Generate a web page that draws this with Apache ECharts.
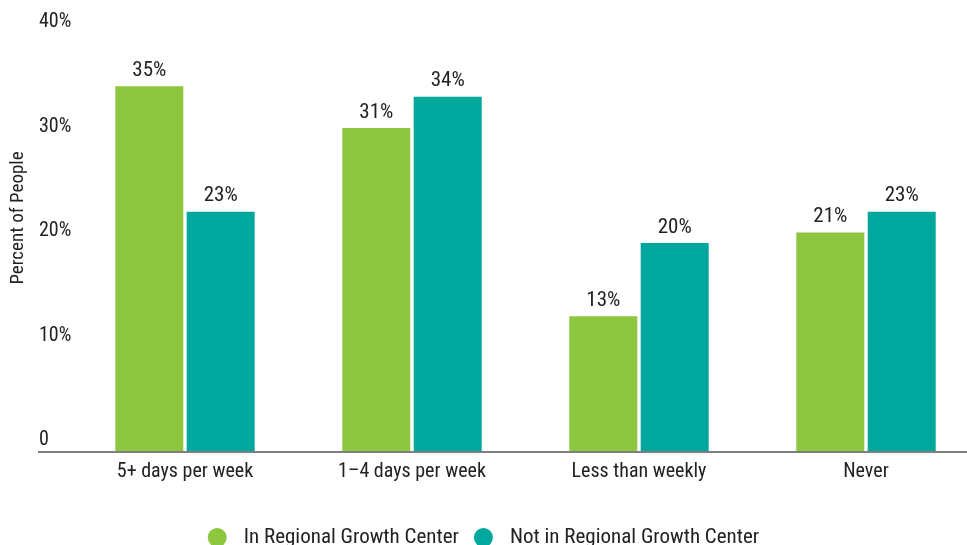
<!DOCTYPE html>
<html>
<head>
<meta charset="utf-8">
<script src="https://cdn.jsdelivr.net/npm/echarts@6/dist/echarts.min.js"></script>
<style>
  html, body { margin: 0; padding: 0; background: #fff; }
  #chart { width: 967px; height: 545px; }
</style>
</head>
<body>
<div id="chart"></div>
<script>
// Commute frequency by location
const categories = ['5+ days per week', '1\u20134 days per week', 'Less than weekly', 'Never'];
const inCenter = [35, 31, 13, 21];
const notInCenter = [23, 34, 20, 23];
const seriesNames = ['In Regional Growth Center', 'Not in Regional Growth Center'];
const yTicks = { min: 0, max: 40, interval: 10 };
const yTitle = 'Percent of People';

const FONT = '"Roboto Condensed", "Liberation Sans Narrow", Roboto, sans-serif';
const GREEN = '#8dc63f';
const TEAL = '#00a79d';

const chart = echarts.init(document.getElementById('chart'));

const gridLeft = 71.5, gridRight = -12.5, gridTop = 34, gridBottom = 93;

function barSeries(name, data, color) {
  return {
    name: name,
    type: 'bar',
    data: data,
    barWidth: 68,
    barGap: '5%',
    itemStyle: { color: color },
    label: {
      show: true,
      position: 'top',
      distance: 5,
      formatter: '{c}%',
      color: '#222',
      fontFamily: FONT,
      fontSize: 21
    }
  };
}

chart.setOption({
  animation: false,
  textStyle: { fontFamily: FONT },
  grid: {
    left: gridLeft, right: gridRight, top: gridTop, bottom: gridBottom,
    containLabel: false,
    outerBoundsMode: 'none'
  },
  legend: {
    top: 522,
    left: 'center',
    icon: 'circle',
    itemWidth: 19,
    itemHeight: 19,
    itemGap: 15,
    textStyle: { color: '#222', fontSize: 21, fontFamily: FONT, padding: [0, 0, 0, 12] },
    data: seriesNames
  },
  xAxis: {
    type: 'category',
    data: categories,
    axisLine: { show: false },
    axisTick: { show: false },
    axisLabel: { color: '#222', fontSize: 20, fontFamily: FONT, margin: 10 }
  },
  yAxis: {
    type: 'value',
    min: yTicks.min,
    max: yTicks.max,
    interval: yTicks.interval,
    axisLine: { show: false },
    axisTick: { show: false },
    splitLine: { show: false },
    axisLabel: {
      color: '#222',
      fontSize: 20,
      fontFamily: FONT,
      align: 'left',
      verticalAlign: 'bottom',
      margin: 32.5,
      padding: [0, 0, 2, 0],
      formatter: v => v === 0 ? '0' : v + '%'
    }
  },
  series: [
    barSeries(seriesNames[0], inCenter, GREEN),
    barSeries(seriesNames[1], notInCenter, TEAL)
  ]
});

// Baseline rule spanning the full plot width, extending under the tick labels,
// plus the rotated y-axis title
const base = chart.convertToPixel({ yAxisIndex: 0 }, 0);
chart.setOption({
  graphic: [
    {
      type: 'line',
      shape: { x1: 38, y1: base, x2: 967, y2: base },
      style: { stroke: '#7f7f7f', lineWidth: 2 },
      z: 10
    },
    {
      type: 'text',
      x: 18,
      y: 218,
      rotation: Math.PI / 2,
      style: {
        text: yTitle,
        fill: '#222',
        font: '19px ' + FONT,
        textAlign: 'center',
        textVerticalAlign: 'middle'
      }
    }
  ]
});
</script>
</body>
</html>
